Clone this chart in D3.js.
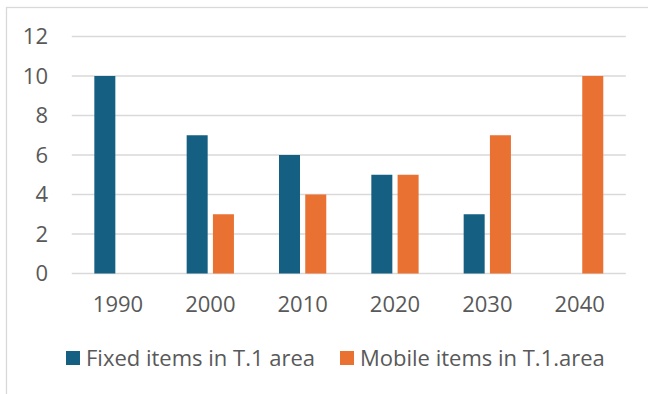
<!DOCTYPE html>
<html><head><meta charset="utf-8">
<script src="https://cdn.jsdelivr.net/npm/d3@7"></script>
<style>html,body{margin:0;padding:0;background:#fff;}svg{display:block;}</style>
</head><body>
<svg id="c" width="648" height="394"></svg>
<script>
const categories = ["1990","2000","2010","2020","2030","2040"];
const seriesNames = ["Fixed items in T.1 area","Mobile items in T.1.area"];
const fixedValues = [10,7,6,5,3,0];
const mobileValues = [0,3,4,5,7,10];
const yTicks = [0,2,4,6,8,10,12];
const colors = ["#156082","#E97132"];

const svg = d3.select("#c");
const font = "'Open Sans', sans-serif";
const textColor = "#595959";
const fs = 22;

svg.append("rect").attr("x",6.5).attr("y",7.5).attr("width",700).attr("height",500)
  .attr("fill","#fff").attr("stroke","#d9d9d9").attr("stroke-width",1.3);

const x0 = d3.scaleBand().domain(categories).range([71.8,625.8]).paddingInner(0.488).paddingOuter(0.244);
const x1 = d3.scaleBand().domain([0,1]).range([0,x0.bandwidth()]).paddingInner(0.2);
const y = d3.scaleLinear().domain([0,12]).range([273.5,36.5]);

// grid
svg.append("g").selectAll("line").data(yTicks).join("line")
  .attr("x1",71.8).attr("x2",625.8).attr("y1",d=>y(d)).attr("y2",d=>y(d))
  .attr("stroke","#d9d9d9").attr("stroke-width",1.5);

// y axis labels
const yAxis = d3.axisLeft(y).tickValues(yTicks).tickSize(0).tickPadding(0);
const yg = svg.append("g").attr("transform","translate(48,0)").call(yAxis);
yg.select(".domain").remove();
yg.selectAll("text").attr("font-family",font).attr("font-size",fs).attr("fill",textColor);

// x axis labels
const xAxis = d3.axisBottom(x0).tickSize(0).tickPadding(0);
const xg = svg.append("g").attr("transform","translate(0,296)").call(xAxis);
xg.select(".domain").remove();
xg.selectAll("text").attr("font-family",font).attr("font-size",fs).attr("fill",textColor);

// bars
const data = categories.map((c,i)=>({c, vals:[fixedValues[i], mobileValues[i]]}));
const groups = svg.append("g").selectAll("g").data(data).join("g")
  .attr("transform",d=>`translate(${x0(d.c)},0)`);
groups.selectAll("rect").data(d=>d.vals.map((v,k)=>({k,v}))).join("rect")
  .attr("x",d=>x1(d.k)).attr("width",x1.bandwidth())
  .attr("y",d=>y(d.v)).attr("height",d=>y(0)-y(d.v))
  .attr("fill",d=>colors[d.k]);

// legend
const legendX = [66,340];
const lg = svg.append("g").selectAll("g").data(seriesNames).join("g")
  .attr("transform",(d,i)=>`translate(${legendX[i]},351)`);
lg.append("rect").attr("width",14).attr("height",14).attr("fill",(d,i)=>colors[i]);
lg.append("text").attr("x",20).attr("y",7).attr("dy","0.36em")
  .attr("font-family",font).attr("font-size",fs).attr("fill",textColor).text(d=>d);
</script>
</body></html>
